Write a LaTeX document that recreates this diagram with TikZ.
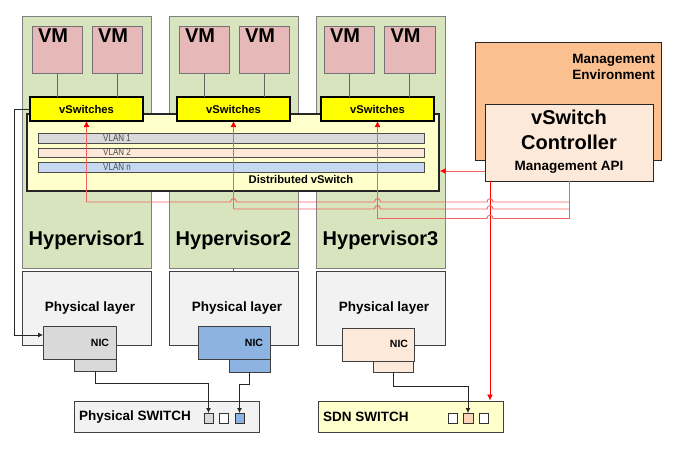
\documentclass[tikz,border=0pt]{standalone}
\usepackage{fontspec}
\setmainfont{Liberation Sans}
\usetikzlibrary{arrows.meta}
\newcommand\mysz[1]{\fontsize{#1}{#1}\selectfont}
\definecolor{hvgreen}{HTML}{D7E4BD}
\definecolor{vmred}{HTML}{E6B9B8}
\definecolor{vsyellow}{HTML}{FFFF00}
\definecolor{dvyellow}{HTML}{FFFFCC}
\definecolor{vlanA}{HTML}{D9D9D9}
\definecolor{vlanB}{HTML}{FDE9D9}
\definecolor{vlanC}{HTML}{C6D9F1}
\definecolor{mgmt}{HTML}{FAC090}
\definecolor{ctrl}{HTML}{FDE9D9}
\definecolor{phys}{HTML}{F2F2F2}
\definecolor{nicblue}{HTML}{8DB3E2}
\definecolor{portpeach}{HTML}{FBD5B5}
\definecolor{lred}{HTML}{F26262}
\tikzset{
  box/.style={draw, inner sep=0pt, outer sep=0pt, anchor=north west},
  hv/.style={box, draw=black!50, fill=hvgreen, line width=0.9pt},
  vm/.style={box, draw=black!55, fill=vmred, line width=0.9pt},
  physbox/.style={box, draw=black!75, fill=phys, line width=0.8pt},
  vsw/.style={box, draw=black, fill=vsyellow, line width=1.4pt},
  dvs/.style={box, draw=black!85, fill=dvyellow, line width=1.4pt},
  vlan/.style={box, draw=black!70, line width=0.7pt},
  nic/.style={box, draw=black!75, line width=0.8pt},
  port/.style={box, draw=black!80, line width=0.7pt},
  vmtxt/.style={font=\mysz{20}\bfseries, inner sep=0pt},
  bigtxt/.style={font=\mysz{20}\bfseries, inner sep=0pt},
  midtxt/.style={font=\mysz{13.5}\bfseries, inner sep=0pt},
  smtxt/.style={font=\mysz{11.2}\bfseries, inner sep=0pt},
  nictxt/.style={font=\mysz{10.5}\bfseries, inner sep=0pt},
  vlantxt/.style={font=\mysz{10}, text=black!70, inner sep=0pt},
  wire/.style={draw=black!85, line width=0.8pt},
  wirearrow/.style={wire, -{Latex[length=5pt,width=5pt]}},
  rline/.style={draw=lred, line width=0.9pt},
  rarrow/.style={rline, -{Latex[length=6pt,width=6pt,color=red]}},
}
\begin{document}
\begin{tikzpicture}[x=1pt,y=-1pt]
\useasboundingbox (0,0) rectangle (680,452);

% hypervisors
\node[hv, minimum width=129pt, minimum height=252pt] (h1) at (22,16) {};
\node[hv, minimum width=129pt, minimum height=252pt] (h2) at (169,16) {};
\node[hv, minimum width=129pt, minimum height=252pt] (h3) at (316,16) {};
\node[bigtxt] (h1t) at (86.5,240) {Hypervisor1};
\node[bigtxt] (h2t) at (233.5,240) {Hypervisor2};
\node[bigtxt] (h3t) at (380.5,240) {Hypervisor3};

% physical layers
\node[physbox, minimum width=129pt, minimum height=74pt] (p1) at (22,271) {};
\node[physbox, minimum width=129pt, minimum height=74pt] (p2) at (169,271) {};
\node[physbox, minimum width=129pt, minimum height=74pt] (p3) at (316,271) {};
\node[midtxt] (p1t) at (90,308) {Physical layer};
\node[midtxt] (p2t) at (237,308) {Physical layer};
\node[midtxt] (p3t) at (384,308) {Physical layer};
\draw[wire, draw=black!60] (h2.south) -- (p2.north);

% VMs
\node[vm, minimum width=50pt, minimum height=47pt] (v11) at (32,26) {};
\node[vm, minimum width=50pt, minimum height=47pt] (v12) at (92,26) {};
\node[vm, minimum width=50pt, minimum height=47pt] (v21) at (179,26) {};
\node[vm, minimum width=50pt, minimum height=47pt] (v22) at (239,26) {};
\node[vm, minimum width=50pt, minimum height=47pt] (v31) at (324,26) {};
\node[vm, minimum width=51pt, minimum height=47pt] (v32) at (384,26) {};
\foreach \v in {v11,v12,v21,v22,v31,v32}{
  \node[vmtxt, anchor=north] at ([xshift=-4pt,yshift=-2.5pt]\v.north) {VM};
}

% distributed vswitch
\node[dvs, minimum width=412pt, minimum height=77pt] (dv) at (27,114) {};
\node[vlan, fill=vlanA, minimum width=386pt, minimum height=10pt] (l1) at (38,133) {};
\node[vlan, fill=vlanB, minimum width=386pt, minimum height=9pt] (l2) at (38,148) {};
\node[vlan, fill=vlanC, minimum width=386pt, minimum height=10pt] (l3) at (38,162) {};
\node[vlantxt] (l1t) at (117,138) {\scalebox{0.8}[1]{VLAN 1}};
\node[vlantxt] (l2t) at (117,152.5) {\scalebox{0.8}[1]{VLAN 2}};
\node[vlantxt] (l3t) at (117,167) {\scalebox{0.8}[1]{VLAN n}};
\node[smtxt] (dvt) at (301,179) {Distributed vSwitch};

% vswitches
\node[vsw, minimum width=113pt, minimum height=24pt] (s1) at (30,97) {};
\node[vsw, minimum width=113pt, minimum height=24pt] (s2) at (177,97) {};
\node[vsw, minimum width=113pt, minimum height=24pt] (s3) at (321,97) {};
\foreach \s in {s1,s2,s3}{
  \node[smtxt] at (\s.center) {vSwitches};
}
\foreach \v/\s in {v11/s1,v12/s1,v21/s2,v22/s2,v31/s3,v32/s3}{
  \draw[wire, draw=black!60] (\v.south) -- (\v.south |- \s.north);
}

% management
\node[box, draw=black!85, fill=mgmt, line width=0.8pt, minimum width=186pt, minimum height=118pt] (me) at (475,42) {};
\node[midtxt, anchor=east, align=right] (met) at (655,67) {Management\\[2.5pt]Environment};
\node[box, draw=black!85, fill=ctrl, line width=0.8pt, minimum width=168pt, minimum height=77pt] (ct) at (485,104) {};
\node[bigtxt] (ct1) at (569,117) {vSwitch};
\node[bigtxt] (ct2) at (569,142) {Controller};
\node[midtxt] (ct3) at (569,167) {Management API};

% NICs
\node[nic, fill=vlanA, minimum width=73pt, minimum height=33pt] (n1) at (43,326) {};
\node[nic, fill=vlanA, minimum width=42pt, minimum height=12pt] (t1) at (74,359) {};
\node[nic, fill=nicblue, minimum width=72pt, minimum height=33pt] (n2) at (198,326) {};
\node[nic, fill=nicblue, minimum width=41pt, minimum height=13pt] (t2) at (229,359) {};
\node[nic, fill=vlanB, minimum width=72pt, minimum height=33pt] (n3) at (342,328) {};
\node[nic, fill=vlanB, minimum width=40pt, minimum height=11pt] (t3) at (373,361) {};
\node[nictxt] (n1t) at (100,343) {NIC};
\node[nictxt] (n2t) at (254,343) {NIC};
\node[nictxt] (n3t) at (399,344) {NIC};

% switches
\node[box, draw=black!75, fill=phys, line width=0.8pt, minimum width=185pt, minimum height=31pt] (ps) at (74,401) {};
\node[midtxt, anchor=west] (pst) at (79,417) {Physical SWITCH};
\node[port, fill=vlanA, minimum width=9pt, minimum height=10pt] (pa) at (204,413) {};
\node[port, fill=white, minimum width=9pt, minimum height=10pt] (pb) at (219,413) {};
\node[port, fill=nicblue, minimum width=9pt, minimum height=10pt] (pc) at (235,413) {};
\node[box, draw=black!75, fill=dvyellow, line width=0.8pt, minimum width=185pt, minimum height=31pt] (sdn) at (318,401) {};
\node[midtxt, anchor=west] (sdnt) at (323,417) {SDN SWITCH};
\node[port, fill=white, minimum width=9pt, minimum height=10pt] (sa) at (448,413) {};
\node[port, fill=portpeach, minimum width=10pt, minimum height=10pt] (sb) at (463,413) {};
\node[port, fill=white, minimum width=9pt, minimum height=10pt] (sc) at (479,413) {};

% black wires
\coordinate (k1) at (95,383);
\coordinate (k2) at (249.5,384);
\coordinate (k3) at (393,386);
\draw[wirearrow] (t1.south) -- (t1.south |- k1) -| (pa.north);
\draw[wirearrow] (t2.south) -- (t2.south |- k2) -| (pc.north);
\draw[wirearrow] (t3.south) -- (t3.south |- k3) -| (sb.north);
\coordinate (w1) at (14,109);
\coordinate (w2) at (14,335);
\coordinate (w3) at (43,335);
\draw[wirearrow] (s1.west |- w1) -- (w1) -- (w2) -- (w3);

% red wires
\coordinate (a1) at (86.5,202);
\coordinate (a2) at (233.5,209);
\coordinate (a3) at (377.5,218.5);
\coordinate (c1) at (569,181);
\coordinate (c2) at (569,218.5);
\coordinate (d1) at (490,181);
\coordinate (d2) at (490,400.5);
\coordinate (e1) at (485,171);
\coordinate (e2) at (439.7,171);
\draw[rarrow] (a1) -- (a1 |- s1.south);
\draw[rarrow] (a2) -- (a2 |- s2.south);
\draw[rarrow] (a3) -- (a3 |- s3.south);
\draw[rline] (c1) -- (c2);
\draw[rarrow, draw=red] (d1) -- (d2);
\draw[rarrow] (e1) -- (e2);
\draw[rline] (a1) -- (230.5,202) .. controls (230.5,197.5) and (236.5,197.5) .. (236.5,202)
  -- (374.5,202) .. controls (374.5,197.5) and (380.5,197.5) .. (380.5,202)
  -- (487,202) .. controls (487,197.5) and (493,197.5) .. (493,202) -- (569,202);
\draw[rline] (a2) -- (374.5,209) .. controls (374.5,204.5) and (380.5,204.5) .. (380.5,209)
  -- (487,209) .. controls (487,204.5) and (493,204.5) .. (493,209) -- (569,209);
\draw[rline] (a3) -- (487,218.5) .. controls (487,214) and (493,214) .. (493,218.5) -- (c2);
\end{tikzpicture}
\end{document}
